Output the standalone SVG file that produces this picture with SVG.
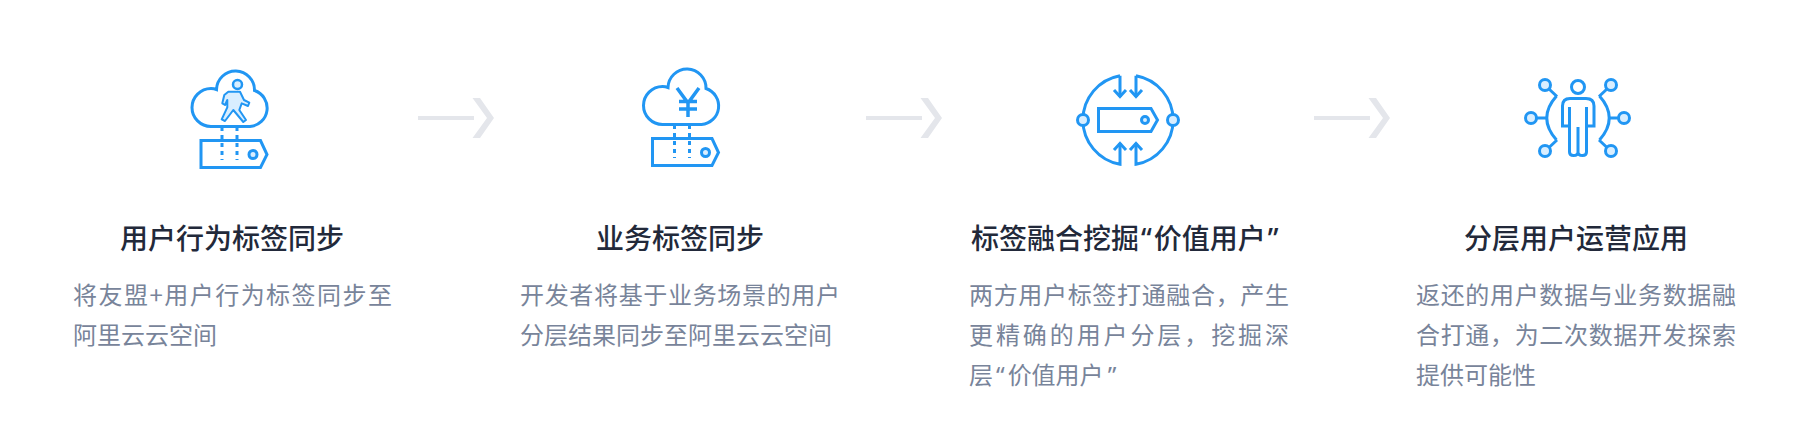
<svg xmlns="http://www.w3.org/2000/svg" width="1800" height="440" viewBox="0 0 1800 440">
<style>
text{font-family:"Noto Sans CJK SC","Noto Sans",sans-serif}
.t{font-size:28px;font-weight:500;fill:#22293a}
.b{font-size:24px;fill:#78849a}
.q{font-family:"Noto Sans","Noto Sans CJK SC",sans-serif}
.i{fill:none;stroke:#2196f3;stroke-width:3}
.f{fill:#d9eeff;stroke:#2196f3;stroke-width:3}
.d{fill:none;stroke:#2196f3;stroke-width:3;stroke-dasharray:4 4}
.a{fill:#e4e6eb}
</style>
<defs>
<path id="cloud" d="M211 126.500A19 19 0 0 1 211 88.500Q214 88.500 216.500 89.500A19 19 0 0 1 254.500 90.500A18.500 18.500 0 0 1 250 126.500Z"/>
<path id="tag" d="M201 140.500H260.500L267 154.500L260.500 167.500H201Z"/>
<g id="arrow"><rect x="418" y="116" width="56" height="4" class="a"/><path d="M472.500 98H480L494 118L480 138H472.500L487 118Z" class="a"/></g>
</defs>
<g id="connectors">
<use href="#arrow"/>
<use href="#arrow" x="448"/>
<use href="#arrow" x="896"/>
</g>
<g id="node-1">
<use href="#cloud" class="i"/>
<use href="#tag" class="i"/>
<path class="d" d="M222 127V160M237 127V160"/>
<circle cx="253" cy="154.500" r="4" class="f"/>
<circle cx="237.500" cy="84.500" r="4.500" class="f" style="stroke-width:2.500"/>
<path class="f" style="stroke-width:2" stroke-linejoin="round" d="M228.300 91.700L240 91.700L244 100L249.300 102.700L248 106L241.700 103.300L239.300 110L246 120L243.300 122L233.300 110L225 121L221.700 119.300L227.300 107.300L227.300 100L225 105L222.300 103.300L224.300 95Z"/>
<text class="t" x="120" y="249">用户行为标签同步</text>
<text class="b" x="73" y="304" textLength="319" lengthAdjust="spacing">将友盟+用户行为标签同步至</text>
<text class="b" x="73" y="344">阿里云云空间</text>
</g>
<g id="node-2">
<use href="#cloud" class="i" x="451.500" y="-2"/>
<use href="#tag" class="i" x="451.500" y="-2"/>
<path class="d" d="M674.500 125V158M689.500 125V158"/>
<circle cx="705.500" cy="152.500" r="4" class="f"/>
<path class="i" d="M677 88L688 103L699 88M688 103V117M679 101.500H697M679 109H697" style="stroke-width:3.500"/>
<text class="t" x="596" y="249">业务标签同步</text>
<text class="b" x="520" y="304" textLength="320" lengthAdjust="spacing">开发者将基于业务场景的用户</text>
<text class="b" x="520" y="344">分层结果同步至阿里云云空间</text>
</g>
<g id="node-3">
<path class="i" d="M1120 75.700A45 45 0 0 0 1120 164.300V143M1136 75.700A45 45 0 0 1 1136 164.300V143M1120 75.700V97M1136 75.700V97"/>
<path class="i" d="M1114 90L1120 96.500L1126 90M1130 90L1136 96.500L1142 90M1114 150L1120 143.500L1126 150M1130 150L1136 143.500L1142 150"/>
<path class="i" d="M1098.500 108.500H1151L1157.500 120L1151 131.500H1098.500Z"/>
<circle cx="1145" cy="120" r="3.500" class="f"/>
<circle cx="1083" cy="120" r="5.500" class="f"/>
<circle cx="1173" cy="120" r="5.500" class="f"/>
<text class="t" x="971" y="249">标签融合挖掘<tspan class="q" dx="2">“</tspan><tspan dx="2">价值用户</tspan><tspan class="q" dx="2">”</tspan></text>
<text class="b" x="969" y="304" textLength="320" lengthAdjust="spacing">两方用户标签打通融合，产生</text>
<text class="b" x="969" y="344" textLength="320" lengthAdjust="spacing">更精确的用户分层，挖掘深</text>
<text class="b" x="969" y="384">层<tspan class="q" dx="3">“</tspan><tspan dx="3">价值用户</tspan><tspan class="q" dx="4">”</tspan></text>
</g>
<g id="node-4">
<circle cx="1578" cy="87" r="6.500" class="i"/>
<path class="i" d="M1570 98.500H1586Q1594 98.500 1594 106V126H1586.500V107M1586.500 126V152Q1586.500 155.500 1582.500 155.500Q1578 155.500 1578 152V127V152Q1578 155.500 1573.500 155.500Q1569.500 155.500 1569.500 152V107M1569.500 126H1562.500V106Q1562.500 98.500 1570 98.500"/>
<path class="i" d="M1556.500 96Q1537 118 1556.500 140M1599.500 96Q1619 118 1599.500 140M1557 96.500L1549 89M1599 96.500L1607 89M1557 140L1549 147.500M1599 140L1607 147.500M1547 118H1536M1609 118H1619"/>
<circle cx="1545" cy="85" r="5.500" class="f"/>
<circle cx="1611" cy="85" r="5.500" class="f"/>
<circle cx="1531" cy="118" r="5.500" class="f"/>
<circle cx="1624" cy="118" r="5.500" class="f"/>
<circle cx="1545" cy="151" r="5.500" class="f"/>
<circle cx="1611" cy="151" r="5.500" class="f"/>
<text class="t" x="1464" y="249">分层用户运营应用</text>
<text class="b" x="1416" y="304" textLength="320" lengthAdjust="spacing">返还的用户数据与业务数据融</text>
<text class="b" x="1416" y="344" textLength="320" lengthAdjust="spacing">合打通，为二次数据开发探索</text>
<text class="b" x="1416" y="384">提供可能性</text>
</g>
</svg>
